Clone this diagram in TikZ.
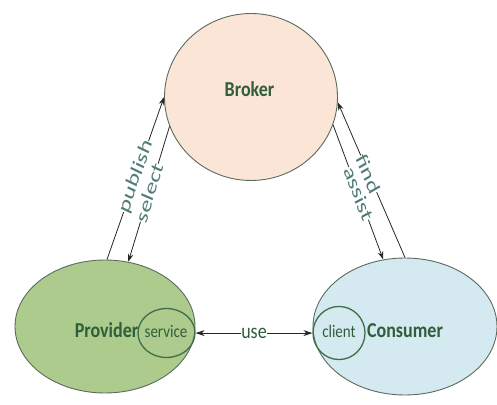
\documentclass[tikz,border=0pt]{standalone}
\usepackage{fontspec}
\setmainfont{Carlito}
\usetikzlibrary{arrows.meta,shapes.geometric}
\definecolor{brokerfill}{HTML}{FBE5D6}
\definecolor{providerfill}{HTML}{AECB8E}
\definecolor{consumerfill}{HTML}{D5E9F0}
\definecolor{rimgray}{HTML}{5B6B5F}
\definecolor{innergreen}{HTML}{3E6E48}
\definecolor{titlegreen}{HTML}{2F5E3B}
\definecolor{labelteal}{HTML}{4F7D76}
\begin{document}
\begin{tikzpicture}[x=1pt,y=-0.847458pt,
  party/.style={ellipse, draw=rimgray, line width=0.9pt, inner sep=0pt},
  role/.style={ellipse, draw=innergreen, line width=1.3pt, inner sep=0pt},
  title/.style={font=\fontsize{18}{20}\selectfont\bfseries, text=titlegreen, inner sep=0pt, anchor=base},
  roletext/.style={font=\fontsize{15}{17}\selectfont, text=titlegreen, inner sep=0pt, anchor=base},
  flow/.style={line width=0.8pt, draw=black!85, -{Stealth[length=8pt,width=5.5pt]}},
  verb/.style={font=\fontsize{22}{24}\selectfont, text=labelteal, fill=white, inner sep=0pt}]
\begin{scope}[yscale=1.18, transform shape]
\useasboundingbox (0,0) rectangle (497,405);
\fill[white] (0,0) rectangle (497,405);

% the three parties
\node[party, fill=brokerfill, minimum width=173pt, minimum height=141.5pt] (broker) at (251,97) {};
\node[party, fill=providerfill, minimum width=180pt, minimum height=112.7pt] (provider) at (105,326.5) {};
\node[party, fill=consumerfill, minimum width=184pt, minimum height=116.1pt] (consumer) at (405,326.5) {};

% roles inside provider and consumer
\node[role, minimum width=57pt, minimum height=41.5pt] (service) at (166.5,333) {};
\node[role, minimum width=52pt, minimum height=45pt] (client) at (339,333) {};

% names
\node[title] (brokername) at (249.5,97) {Broker};
\node[title] (providername) at (106.5,338) {Provider};
\node[title] (consumername) at (405,338) {Consumer};
\node[roletext] (servicename) at (166,338) {service};
\node[roletext] (clientname) at (339,338) {client};

% interactions (labels squeezed across the line direction)
\draw[flow] (provider.88) -- node[verb, pos=0.51, rotate=68, yscale=0.8] (publishlabel) {publish} (broker.180);
\draw[flow] (broker.197) -- node[verb, pos=0.49, rotate=70, yscale=0.8] (selectlabel) {select} (provider.67);
\draw[flow] (consumer.90) -- node[verb, pos=0.54, rotate=-64, yscale=0.8] (findlabel) {find} (broker.357);
\draw[flow] (broker.344) -- node[verb, pos=0.51, rotate=-66, yscale=0.8] (assistlabel) {assist} (consumer.111);
\draw[line width=0.9pt, draw=black!85, {Stealth[length=9pt,width=6pt]}-{Stealth[length=9pt,width=6pt]}]
  (service.east) -- node[font=\fontsize{18}{20}\selectfont, text=titlegreen, fill=white, inner sep=0.5pt] (uselabel) {use} (client.west);
\end{scope}
\end{tikzpicture}
\end{document}
